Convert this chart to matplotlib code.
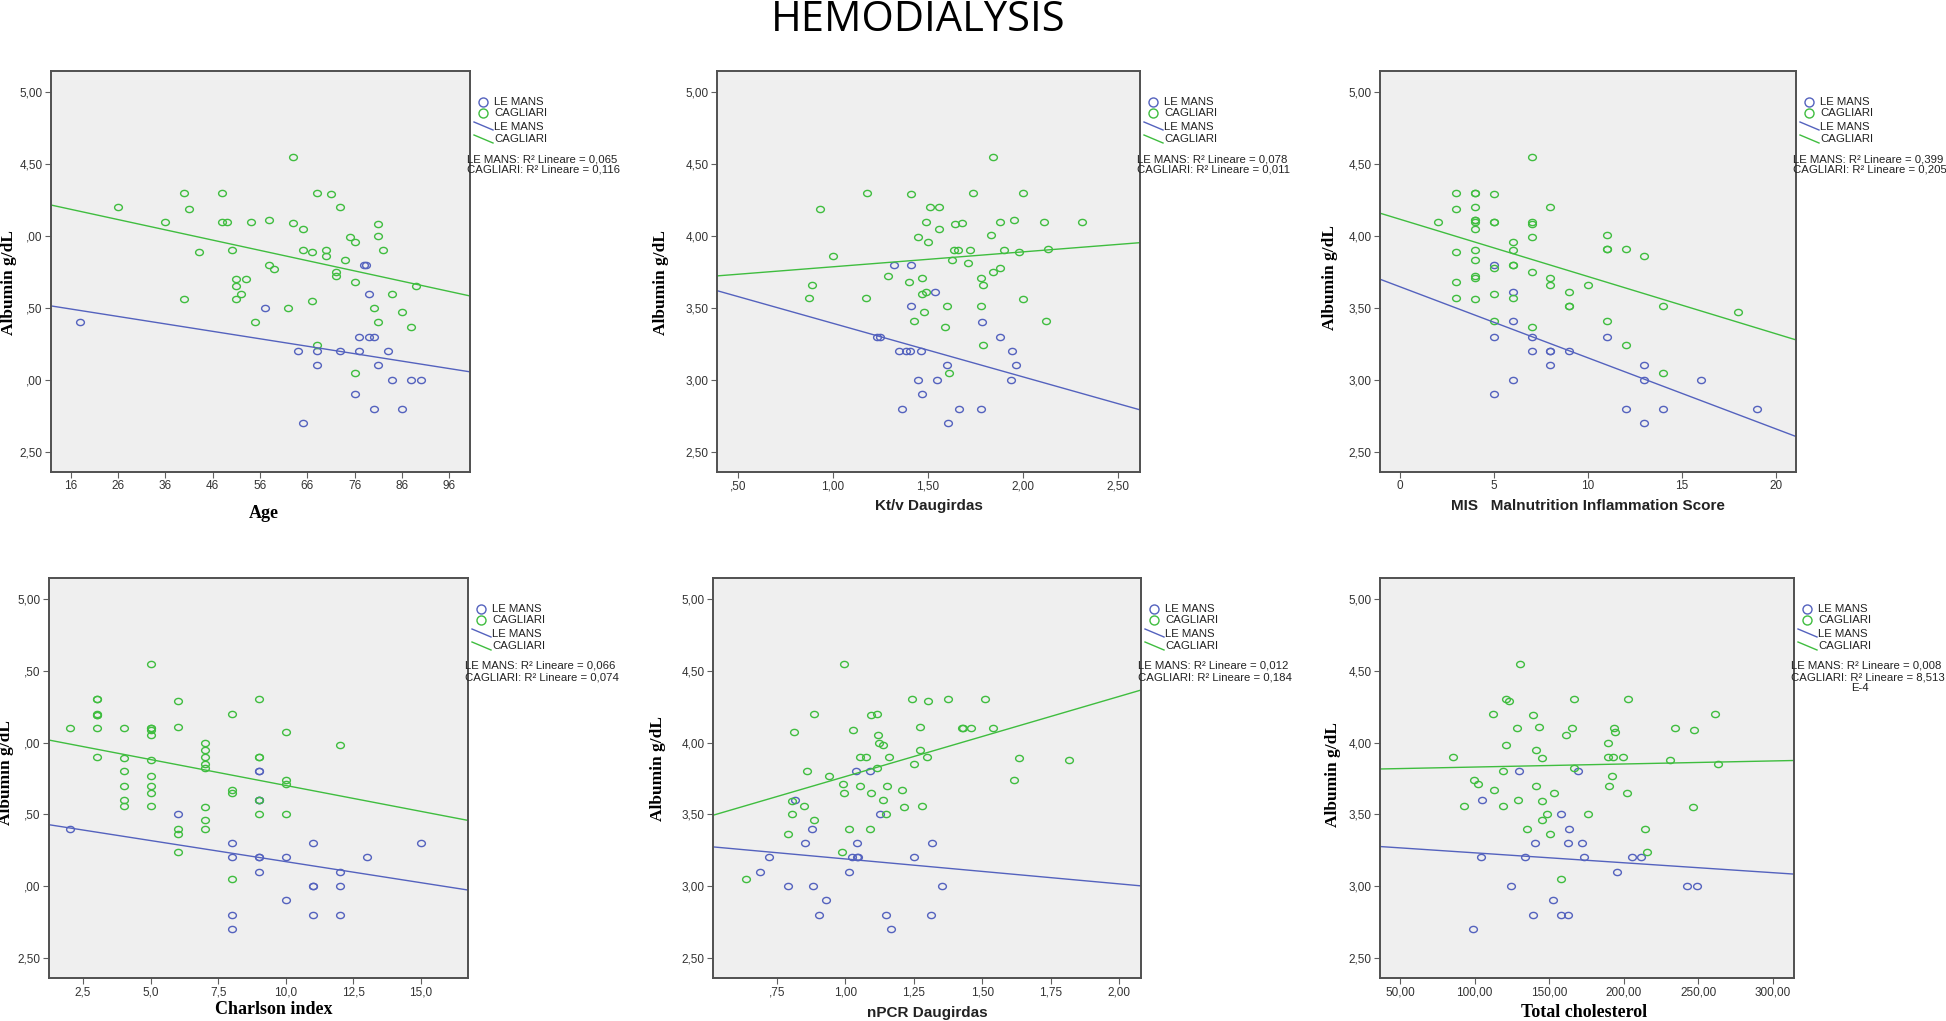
import matplotlib
matplotlib.use("Agg")
import matplotlib.pyplot as plt
from matplotlib.path import Path
from matplotlib.lines import Line2D

# ---- data ----
# panel 1: Age
age_lm = [18, 57, 64, 65, 68, 68, 73, 76, 77, 77, 78, 78.4, 79, 79, 80, 80, 81, 83, 84, 86, 88, 90]
alb_age_lm = [3.40, 3.50, 3.20, 2.70, 3.20, 3.10, 3.20, 2.90, 3.30, 3.20, 3.80, 3.80, 3.60, 3.30, 3.30, 2.80, 3.10, 3.20, 3.00, 2.80, 3.00, 3.00]
age_ca = [26, 36, 40, 41, 43, 40, 48, 48, 49, 50, 51, 51, 51, 52, 53, 54, 55, 58, 58, 59, 62, 63, 63, 65, 65,
          67, 67, 68, 68, 70, 70, 71, 72, 72, 73, 74, 75, 76, 76, 76, 80, 81, 81, 81, 82, 84, 86, 88, 89]
alb_age_ca = [4.20, 4.10, 4.30, 4.19, 3.89, 3.56, 4.30, 4.10, 4.10, 3.90, 3.70, 3.65, 3.56, 3.60, 3.70, 4.10, 3.40, 4.11, 3.80, 3.77,
              3.50, 4.55, 4.09, 4.05, 3.90, 3.89, 3.55, 4.30, 3.24, 3.90, 3.86, 4.29, 3.75, 3.72, 4.20, 3.83, 3.99, 3.96, 3.68, 3.05,
              3.50, 4.08, 4.00, 3.40, 3.90, 3.60, 3.47, 3.37, 3.65]

# panel 2: Kt/v Daugirdas
ktv_lm = [1.319, 1.410, 1.412, 1.538, 1.233, 1.249, 1.347, 1.384, 1.405, 1.466, 1.447, 1.468, 1.550, 1.599, 1.363, 1.608,
          1.664, 1.780, 1.787, 1.878, 1.942, 1.965, 1.935]
alb_ktv_lm = [3.80, 3.80, 3.51, 3.61, 3.30, 3.30, 3.20, 3.20, 3.20, 3.20, 3.00, 2.90, 3.00, 3.10, 2.80, 2.70,
              2.80, 2.80, 3.40, 3.30, 3.20, 3.10, 3.00]
ktv_ca = [0.932, 1.002, 0.892, 0.875, 1.181, 1.172, 1.291, 1.410, 1.510, 1.559, 1.491, 1.559, 1.450, 1.501, 1.640, 1.680,
          1.636, 1.659, 1.720, 1.629, 1.710, 1.401, 1.471, 1.470, 1.492, 1.601, 1.480, 1.429, 1.590, 1.611, 1.739, 1.843,
          1.830, 1.881, 1.953, 1.902, 1.981, 1.841, 1.881, 1.780, 1.790, 1.780, 1.790, 2.002, 2.002, 2.109, 2.131, 2.119, 2.310]
alb_ktv_ca = [4.19, 3.86, 3.66, 3.57, 4.30, 3.57, 3.72, 4.29, 4.20, 4.20, 4.10, 4.05, 3.99, 3.96, 4.08, 4.09,
              3.90, 3.90, 3.90, 3.83, 3.81, 3.68, 3.71, 3.60, 3.61, 3.51, 3.47, 3.41, 3.37, 3.05, 4.30, 4.55,
              4.01, 4.10, 4.11, 3.90, 3.89, 3.75, 3.78, 3.71, 3.66, 3.51, 3.24, 4.30, 3.56, 4.10, 3.91, 3.41, 4.10]

# panel 3: MIS
mis_lm = [5, 5, 5, 6, 6, 6, 7, 7, 8, 8, 8, 9, 11, 12, 13, 13, 13, 14, 16, 19]
alb_mis_lm = [3.80, 3.30, 2.90, 3.61, 3.41, 3.00, 3.30, 3.20, 3.20, 3.20, 3.10, 3.20, 3.30, 2.80, 3.10, 3.00, 2.70, 2.80, 3.00, 2.80]
mis_ca = [2, 3, 3, 3, 3, 3, 4, 4, 4, 4, 4, 4, 4, 4, 4, 4, 4, 4, 5, 5, 5, 5, 5, 5, 6, 6, 6, 6, 6,
          7, 7, 7, 7, 7, 7, 8, 8, 8, 9, 9, 9, 10, 11, 11, 11, 11, 12, 12, 13, 14, 14, 18]
alb_mis_ca = [4.10, 4.30, 4.19, 3.89, 3.68, 3.57, 4.30, 4.30, 4.20, 4.11, 4.10, 4.05, 3.90, 3.83, 3.72, 3.71, 3.56, 4.11,
              4.29, 4.10, 4.10, 3.78, 3.60, 3.41, 3.96, 3.90, 3.80, 3.80, 3.57,
              4.55, 4.10, 4.08, 3.99, 3.75, 3.37, 4.20, 3.71, 3.66, 3.61, 3.51, 3.51, 3.66, 4.01, 3.91, 3.91, 3.41,
              3.91, 3.24, 3.86, 3.51, 3.05, 3.47]

# panel 4: Charlson index
cha_lm = [2, 6, 8, 8, 8, 8, 9, 9, 9, 9, 9, 9, 9, 10, 10, 11, 11, 11, 11, 12, 12, 12, 13, 15]
alb_cha_lm = [3.40, 3.50, 3.30, 3.20, 2.80, 2.70, 3.80, 3.80, 3.60, 3.60, 3.20, 3.20, 3.10, 3.20, 2.90, 3.30, 3.00, 3.00, 2.80,
              3.10, 3.00, 2.80, 3.20, 3.30]
cha_ca = [2, 3, 3, 3, 3, 3, 3, 3, 4, 4, 4, 4, 4, 4, 5, 5, 5, 5, 5, 5, 5, 5, 5, 5, 6, 6, 6, 6, 6,
          7, 7, 7, 7, 7, 7, 7, 7, 8, 8, 8, 8, 9, 9, 9, 9, 9, 10, 10, 10, 10, 12]
alb_cha_ca = [4.10, 4.30, 4.30, 4.20, 4.19, 4.19, 4.10, 3.90, 4.10, 3.89, 3.80, 3.70, 3.60, 3.56,
              4.55, 4.10, 4.10, 4.09, 4.05, 3.88, 3.77, 3.70, 3.65, 3.56, 4.29, 4.11, 3.40, 3.36, 3.24,
              4.00, 3.95, 3.90, 3.85, 3.82, 3.55, 3.46, 3.40, 4.20, 3.67, 3.65, 3.05, 4.30, 3.90, 3.90, 3.60, 3.50,
              4.07, 3.74, 3.71, 3.50, 3.98]

# panel 5: nPCR Daugirdas
npcr_lm = [0.690, 0.722, 0.790, 0.818, 0.853, 0.880, 0.881, 0.903, 0.930, 1.012, 1.025, 1.040, 1.042, 1.042, 1.048, 1.091,
           1.127, 1.149, 1.167, 1.251, 1.312, 1.317, 1.352]
alb_npcr_lm = [3.10, 3.20, 3.00, 3.60, 3.30, 3.40, 3.00, 2.80, 2.90, 3.10, 3.20, 3.80, 3.30, 3.20, 3.20, 3.80,
               3.50, 2.80, 2.70, 3.20, 2.80, 3.30, 3.00]
npcr_ca = [0.636, 0.791, 0.805, 0.805, 0.812, 0.850, 0.859, 0.885, 0.887, 0.942, 0.987, 0.990, 0.996, 0.997, 1.012, 1.030,
           1.054, 1.055, 1.077, 1.091, 1.093, 1.095, 1.115, 1.117, 1.120, 1.122, 1.136, 1.138, 1.149, 1.151, 1.161, 1.209,
           1.214, 1.245, 1.251, 1.272, 1.273, 1.279, 1.300, 1.303, 1.374, 1.425, 1.431, 1.459, 1.512, 1.541, 1.616, 1.636, 1.817]
alb_npcr_ca = [3.05, 3.36, 3.59, 3.50, 4.07, 3.56, 3.80, 3.46, 4.20, 3.77, 3.24, 3.71, 3.65, 4.55, 3.40, 4.09,
               3.90, 3.70, 3.90, 3.40, 4.19, 3.65, 3.82, 4.20, 4.05, 4.00, 3.98, 3.60, 3.50, 3.70, 3.90, 3.67,
               3.55, 4.30, 3.85, 4.11, 3.95, 3.56, 3.90, 4.29, 4.30, 4.10, 4.10, 4.10, 4.30, 4.10, 3.74, 3.89, 3.88]

# panel 6: Total cholesterol
chol_lm = [98.7, 104.0, 104.9, 124.1, 129.7, 133.5, 139.1, 140.6, 152.2, 157.8, 157.8, 162.9, 162.5, 163.4, 169.6, 171.7,
           173.4, 195.5, 205.4, 211.2, 242.0, 248.9]
alb_chol_lm = [2.70, 3.20, 3.60, 3.00, 3.80, 3.20, 2.80, 3.30, 2.90, 3.50, 2.80, 2.80, 3.30, 3.40, 3.80, 3.30,
               3.20, 3.10, 3.20, 3.20, 3.00, 3.00]
chol_ca = [85.3, 93.1, 99.3, 102.5, 112.3, 113.2, 119.2, 119.2, 121.2, 123.2, 121.2, 128.1, 129.2, 130.1, 135.0, 139.3,
           141.3, 141.3, 143.1, 145.3, 145.3, 145.3, 148.2, 150.2, 153.3, 158.0, 161.2, 165.4, 166.3, 166.3, 176.1, 189.3,
           189.3, 190.2, 192.2, 192.6, 193.1, 194.2, 199.1, 202.2, 203.1, 214.1, 215.2, 231.0, 234.2, 246.0, 247.3, 261.2, 263.2]
alb_chol_ca = [3.90, 3.56, 3.74, 3.71, 4.20, 3.67, 3.80, 3.56, 4.30, 4.29, 3.98, 4.10, 3.60, 4.55, 3.40, 4.19,
               3.95, 3.70, 4.11, 3.89, 3.59, 3.46, 3.50, 3.36, 3.65, 3.05, 4.05, 4.10, 4.30, 3.82, 3.50, 4.00,
               3.90, 3.70, 3.77, 3.90, 4.10, 4.07, 3.90, 3.65, 4.30, 3.40, 3.24, 3.88, 4.10, 3.55, 4.09, 4.20, 3.85]

# fit lines (intercept, slope)
fit_lm = [(3.575, -0.00517), (3.765, -0.372), (3.647, -0.0494), (3.464, -0.02935), (3.363, -0.1737), (3.301, -0.000692)]
fit_ca = [(4.299, -0.00713), (3.682, 0.1037), (4.116, -0.0398), (4.062, -0.0361), (3.205, 0.558), (3.808, 0.000213)]

r2_text = [("0,065", "0,116"), ("0,078", "0,011"), ("0,399", "0,205"),
           ("0,066", "0,074"), ("0,012", "0,184"), ("0,008", "8,513")]

xlabels = ["Age", "Kt/v Daugirdas", "MIS   Malnutrition Inflammation Score",
           "Charlson index", "nPCR Daugirdas", "Total cholesterol"]
xticks = [[16, 26, 36, 46, 56, 66, 76, 86, 96],
          [0.5, 1.0, 1.5, 2.0, 2.5],
          [0, 5, 10, 15, 20],
          [2.5, 5.0, 7.5, 10.0, 12.5, 15.0],
          [0.75, 1.0, 1.25, 1.5, 1.75, 2.0],
          [50, 100, 150, 200, 250, 300]]
xticklabels = [["16", "26", "36", "46", "56", "66", "76", "86", "96"],
               [",50", "1,00", "1,50", "2,00", "2,50"],
               ["0", "5", "10", "15", "20"],
               ["2,5", "5,0", "7,5", "10,0", "12,5", "15,0"],
               [",75", "1,00", "1,25", "1,50", "1,75", "2,00"],
               ["50,00", "100,00", "150,00", "200,00", "250,00", "300,00"]]
yticks = [5.0, 4.5, 4.0, 3.5, 3.0, 2.5]
full_y = ["5,00", "4,50", "4,00", "3,50", "3,00", "2,50"]
yticklabels = [["5,00", "4,50", ",00", ",50", ",00", "2,50"], full_y, full_y,
               ["5,00", ",50", ",00", ",50", ",00", "2,50"], full_y, full_y]
xlims = [(11.8, 100.4), (0.39, 2.616), (-1.06, 21.06), (1.24, 16.74), (0.517, 2.08), (36.6, 314)]

xs_lm = [age_lm, ktv_lm, mis_lm, cha_lm, npcr_lm, chol_lm]
ys_lm = [alb_age_lm, alb_ktv_lm, alb_mis_lm, alb_cha_lm, alb_npcr_lm, alb_chol_lm]
xs_ca = [age_ca, ktv_ca, mis_ca, cha_ca, npcr_ca, chol_ca]
ys_ca = [alb_age_ca, alb_ktv_ca, alb_mis_ca, alb_cha_ca, alb_npcr_ca, alb_chol_ca]

# ---- layout (pixels in a 1946x1021 canvas) ----
W, H = 1946, 1021
boxes = [(51, 71, 470, 472), (717, 71, 1140, 472), (1380, 71, 1796, 472),
         (49, 578, 468, 978), (713, 578, 1141, 978), (1380, 578, 1794, 978)]
ylab_pos = [(9, 283), (661, 283), (1330, 278), (6, 773), (658, 769), (1333, 775)]
xlab_pos = [(264, 513), (929, 506), (1588, 506), (274, 1009), (927, 1013), (1584, 1012)]
serif_lab = [True, False, False, True, False, True]

BLUE = "#5462BE"
GREEN = "#3FBD3F"
LEG_FS = 8.2


def fx(x):
    return x / W


def fy(y):
    return 1 - y / H


circ = Path.unit_circle()
ellipse = Path(circ.vertices * [1.0, 0.8], circ.codes)

fig = plt.figure(figsize=(W / 100, H / 100), dpi=100)
fig.text(fx(918), fy(20), "HEMODIALYSIS", ha="center", va="center",
         fontsize=30, family="Open Sans", color="black")

for i in range(6):
    x0, y0, x1, y1 = boxes[i]
    ax = fig.add_axes([fx(x0), fy(y1), (x1 - x0) / W, (y1 - y0) / H])
    ax.set_facecolor("#EFEFEF")
    for s in ax.spines.values():
        s.set_color("#505050")
        s.set_linewidth(1.4)

    ax.plot(xs_lm[i], ys_lm[i], linestyle="none", marker=ellipse, ms=5.6,
            mfc="none", mec=BLUE, mew=1.0)
    ax.plot(xs_ca[i], ys_ca[i], linestyle="none", marker=ellipse, ms=5.6,
            mfc="none", mec=GREEN, mew=1.0)

    lo, hi = xlims[i]
    for (b0, b1), c in ((fit_lm[i], BLUE), (fit_ca[i], GREEN)):
        ax.plot([lo, hi], [b0 + b1 * lo, b0 + b1 * hi], color=c, lw=1.0)

    ax.set_xlim(lo, hi)
    ax.set_ylim(2.36, 5.146)
    ax.set_xticks(xticks[i])
    ax.set_xticklabels(xticklabels[i])
    ax.set_yticks(yticks)
    ax.set_yticklabels(yticklabels[i])
    ax.tick_params(direction="out", length=4, width=0.8, color="#606060",
                   labelsize=8.5, labelcolor="#333333", pad=2)
    for lab in ax.get_xticklabels() + ax.get_yticklabels():
        lab.set_family("Liberation Sans")

    # axis titles
    fig.text(fx(ylab_pos[i][0]), fy(ylab_pos[i][1]), "Albumin g/dL", rotation=90,
             ha="center", va="center", fontsize=12.5, fontweight="bold", family="Liberation Serif")
    if serif_lab[i]:
        fig.text(fx(xlab_pos[i][0]), fy(xlab_pos[i][1]), xlabels[i], ha="center", va="center",
                 fontsize=13, fontweight="bold", family="Liberation Serif")
    else:
        fig.text(fx(xlab_pos[i][0]), fy(xlab_pos[i][1]), xlabels[i], ha="center", va="center",
                 fontsize=11, fontweight="bold", family="Liberation Sans", color="#222222")

    # SPSS-style legend to the right of the plot
    xr, yt = x1, y0
    fig.add_artist(Line2D([fx(xr + 13)], [fy(yt + 31)], marker="o", ms=6.5, mfc="none", mec=BLUE, mew=1.0))
    fig.add_artist(Line2D([fx(xr + 13)], [fy(yt + 42)], marker="o", ms=6.5, mfc="none", mec=GREEN, mew=1.0))
    fig.add_artist(Line2D([fx(xr + 4), fx(xr + 23)], [fy(yt + 51), fy(yt + 59)], color=BLUE, lw=1.0))
    fig.add_artist(Line2D([fx(xr + 4), fx(xr + 23)], [fy(yt + 64), fy(yt + 72)], color=GREEN, lw=1.0))
    for dy, name in ((31, "LE MANS"), (42, "CAGLIARI"), (56, "LE MANS"), (68, "CAGLIARI")):
        fig.text(fx(xr + 24), fy(yt + dy), name, ha="left", va="center", fontsize=LEG_FS,
                 family="Liberation Sans", color="#222222")
    fig.text(fx(xr - 3), fy(yt + 88), "LE MANS: R² Lineare = " + r2_text[i][0], ha="left", va="center",
             fontsize=LEG_FS, family="Liberation Sans", color="#222222")
    fig.text(fx(xr - 3), fy(yt + 99), "CAGLIARI: R² Lineare = " + r2_text[i][1], ha="left", va="center",
             fontsize=LEG_FS, family="Liberation Sans", color="#222222")
    if i == 5:
        fig.text(fx(xr + 66), fy(yt + 110), "E-4", ha="center", va="center",
                 fontsize=LEG_FS, family="Liberation Sans", color="#222222")

fig.savefig("out.png", dpi=100)
